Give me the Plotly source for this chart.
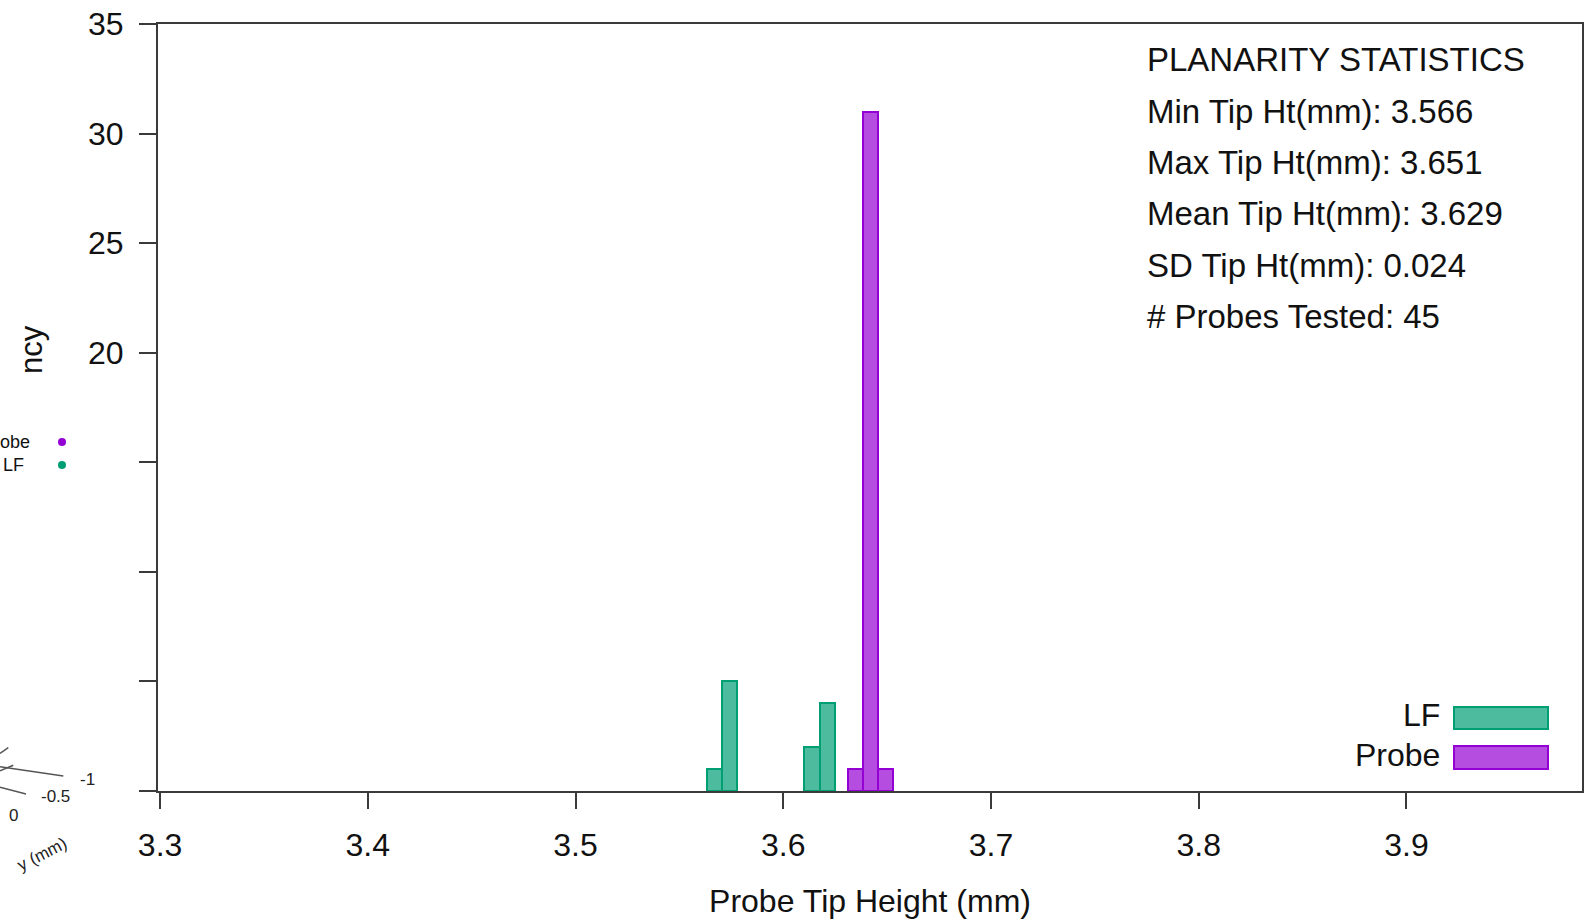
import plotly.graph_objects as go

# ---- data -------------------------------------------------------------
bin_width = 0.0073
lf_centers = [3.5667, 3.5741, 3.6138, 3.6212]
lf_counts = [1, 5, 2, 4]
probe_centers = [3.6346, 3.6420, 3.6492]
probe_counts = [1, 31, 1]

series_names = ["LF", "Probe"]
series_fill = ["rgb(77,187,157)", "rgb(180,77,224)"]
series_line = ["rgb(0,158,115)", "rgb(148,0,211)"]

x_tick_vals = [3.3, 3.4, 3.5, 3.6, 3.7, 3.8, 3.9]
x_tick_text = ["3.3", "3.4", "3.5", "3.6", "3.7", "3.8", "3.9"]
y_tick_vals = [0, 5, 10, 15, 20, 25, 30, 35]
y_tick_text = ["", "", "", "", "20", "25", "30", "35"]

stats_lines = [
    "PLANARITY STATISTICS",
    "Min Tip Ht(mm): 3.566",
    "Max Tip Ht(mm): 3.651",
    "Mean Tip Ht(mm): 3.629",
    "SD Tip Ht(mm): 0.024",
    "# Probes Tested: 45",
]

# ---- layout geometry (pixels) ----------------------------------------
W, H = 1593, 921
L, R, T, B = 158, 11, 24, 130
PW, PH = W - L - R, H - T - B
FONT = "Liberation Sans, Arial, sans-serif"
AXIS = "#3a3a3a"


def fx(px):
    return (px - L) / PW


def fy(py):
    return (T + PH - py) / PH


fig = go.Figure()
for name, xs, ys, fill, line in [
    (series_names[0], lf_centers, lf_counts, series_fill[0], series_line[0]),
    (series_names[1], probe_centers, probe_counts, series_fill[1], series_line[1]),
]:
    fig.add_trace(go.Bar(
        x=xs, y=ys, width=bin_width, name=name,
        marker=dict(color=fill, line=dict(color=line, width=2)),
        showlegend=False,
    ))

annotations = []
shapes = []

# statistics block
stat_y = [60, 111, 162, 213, 265, 316]
for txt, py in zip(stats_lines, stat_y):
    annotations.append(dict(
        xref="paper", yref="paper", x=fx(1145), y=fy(py),
        xanchor="left", yanchor="middle", showarrow=False, text=txt,
        font=dict(family=FONT, size=33, color="#111"),
    ))

# key (bottom right)
key_rows = [(series_names[0], 707, 729), (series_names[1], 746, 769)]
for (name, y0, y1), fill, line in zip(key_rows, series_fill, series_line):
    shapes.append(dict(
        type="rect", xref="paper", yref="paper",
        x0=fx(1454), x1=fx(1548), y0=fy(y1), y1=fy(y0),
        fillcolor=fill, line=dict(color=line, width=2),
    ))
    annotations.append(dict(
        xref="paper", yref="paper", x=fx(1442), y=fy((y0 + y1) / 2 - 3),
        xanchor="right", yanchor="middle", showarrow=False, text=name,
        font=dict(family=FONT, size=32, color="#111"),
    ))

# neighbouring panel fragments at the left edge
annotations += [
    dict(xref="paper", yref="paper", x=fx(32), y=fy(350), text="ncy",
         textangle=-90, showarrow=False, xanchor="center", yanchor="middle",
         font=dict(family=FONT, size=31, color="#111")),
    dict(xref="paper", yref="paper", x=fx(-2), y=fy(442), text="obe",
         showarrow=False, xanchor="left", yanchor="middle",
         font=dict(family=FONT, size=18, color="#111")),
    dict(xref="paper", yref="paper", x=fx(26), y=fy(465), text="LF",
         showarrow=False, xanchor="right", yanchor="middle",
         font=dict(family=FONT, size=18, color="#111")),
    dict(xref="paper", yref="paper", x=fx(87), y=fy(779), text="-1",
         showarrow=False, xanchor="center", yanchor="middle",
         font=dict(family=FONT, size=17, color="#222")),
    dict(xref="paper", yref="paper", x=fx(55), y=fy(796), text="-0.5",
         showarrow=False, xanchor="center", yanchor="middle",
         font=dict(family=FONT, size=17, color="#222")),
    dict(xref="paper", yref="paper", x=fx(13), y=fy(815), text="0",
         showarrow=False, xanchor="center", yanchor="middle",
         font=dict(family=FONT, size=17, color="#222")),
    dict(xref="paper", yref="paper", x=fx(42), y=fy(855), text="y (mm)",
         textangle=-27, showarrow=False, xanchor="center", yanchor="middle",
         font=dict(family=FONT, size=17, color="#222")),
]
for c, py in [(series_line[1], 442), (series_line[0], 465)]:
    shapes.append(dict(
        type="circle", xref="paper", yref="paper",
        x0=fx(58), x1=fx(66), y0=fy(py + 4), y1=fy(py - 4),
        fillcolor=c, line=dict(width=0),
    ))
for (x0, y0, x1, y1) in [(0, 766.7, 63.3, 776), (0, 753.3, 8.3, 747.7),
                         (0, 787.3, 26, 794), (0, 770.7, 13.3, 765.3)]:
    shapes.append(dict(
        type="line", xref="paper", yref="paper",
        x0=fx(x0), y0=fy(y0), x1=fx(x1), y1=fy(y1),
        line=dict(color="#555", width=1.5),
    ))

fig.update_layout(
    width=W, height=H,
    margin=dict(l=L, r=R, t=T, b=B, autoexpand=False),
    paper_bgcolor="white", plot_bgcolor="white",
    bargap=0, barmode="overlay",
    font=dict(family=FONT, size=32, color="#111"),
    annotations=annotations, shapes=shapes,
    xaxis=dict(
        range=[3.299, 3.9845], tickmode="array",
        tickvals=x_tick_vals, ticktext=x_tick_text,
        showgrid=False, zeroline=False,
        showline=True, linecolor=AXIS, linewidth=2, mirror=True,
        ticks="outside", ticklen=16, tickwidth=2, tickcolor=AXIS,
        ticklabelstandoff=9,
        tickfont=dict(family=FONT, size=32, color="#111"),
        title=dict(text="Probe Tip Height (mm)", standoff=27,
                   font=dict(family=FONT, size=32, color="#111")),
    ),
    yaxis=dict(
        range=[0, 35], tickmode="array",
        tickvals=y_tick_vals, ticktext=y_tick_text,
        showgrid=False, zeroline=False,
        showline=True, linecolor=AXIS, linewidth=2, mirror=True,
        ticks="outside", ticklen=17, tickwidth=2, tickcolor=AXIS,
        ticklabelstandoff=9,
        tickfont=dict(family=FONT, size=32, color="#111"),
    ),
)

fig.write_html("out.html")
